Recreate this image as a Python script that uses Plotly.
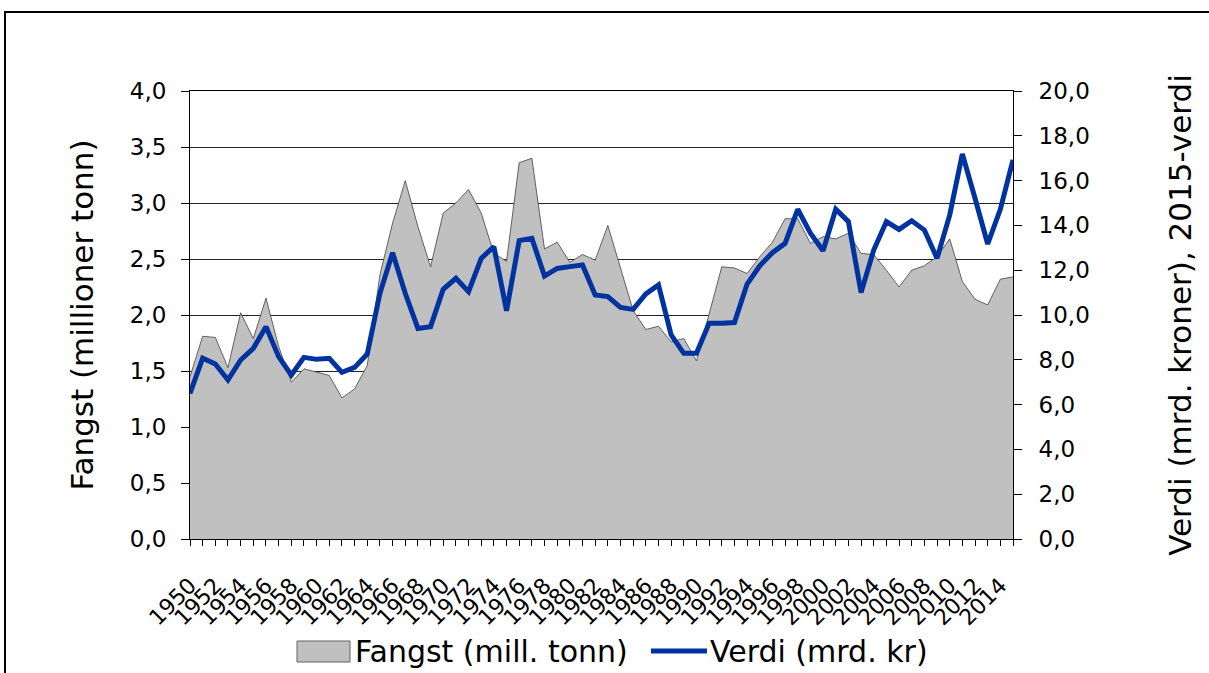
import plotly.graph_objects as go

years = list(range(1950, 2016))
fangst = [1.45, 1.81, 1.80, 1.53, 2.02, 1.79, 2.15, 1.72, 1.40, 1.52,
          1.49, 1.46, 1.26, 1.34, 1.55, 2.36, 2.82, 3.20, 2.79, 2.43,
          2.91, 3.00, 3.12, 2.91, 2.55, 2.48, 3.36, 3.40, 2.59, 2.65,
          2.47, 2.54, 2.49, 2.80, 2.42, 2.04, 1.87, 1.90, 1.76, 1.79,
          1.59, 2.00, 2.43, 2.42, 2.37, 2.52, 2.65, 2.86, 2.86, 2.64,
          2.70, 2.68, 2.73, 2.55, 2.54, 2.40, 2.25, 2.40, 2.44, 2.52,
          2.68, 2.30, 2.14, 2.09, 2.32, 2.34]
verdi = [6.50, 8.07, 7.81, 7.10, 7.99, 8.51, 9.48, 8.14, 7.32, 8.11,
         8.02, 8.07, 7.44, 7.66, 8.26, 10.97, 12.78, 10.97, 9.40, 9.48,
         11.15, 11.64, 11.04, 12.53, 13.05, 10.19, 13.32, 13.42, 11.74, 12.08,
         12.16, 12.23, 10.89, 10.82, 10.34, 10.25, 10.94, 11.34, 9.11, 8.29,
         8.29, 9.63, 9.63, 9.66, 11.38, 12.20, 12.78, 13.20, 14.72, 13.65,
         12.87, 14.72, 14.17, 11.00, 12.90, 14.17, 13.82, 14.21, 13.79, 12.53,
         14.46, 17.19, 15.21, 13.17, 14.72, 16.92]
label_years = years[::2]
left_title = "Fangst (millioner tonn)"
right_title = "Verdi (mrd. kroner), 2015-verdi"
name_fangst = "Fangst (mill. tonn)"
name_verdi = "Verdi (mrd. kr)"

FONT = "DejaVu Sans, Verdana, sans-serif"
GRAY = "#c0c0c0"
BLUE = "#0033a0"

# plot area in pixels: x 190..1013, y 91..539
def px(x):
    return (x - 190) / 823.0

def py(y):
    return (539 - y) / 448.0

fig = go.Figure()
fig.add_trace(go.Scatter(
    x=years, y=fangst, name=name_fangst, mode="lines",
    fill="tozeroy", fillcolor=GRAY,
    line=dict(color="#404040", width=0.8), yaxis="y", showlegend=False))
fig.add_trace(go.Scatter(
    x=years, y=verdi, name=name_verdi, mode="lines",
    line=dict(color=BLUE, width=5), yaxis="y2", showlegend=False))

fig.update_layout(
    width=1209, height=673,
    margin=dict(l=190, r=196, t=91, b=134, autoexpand=False),
    paper_bgcolor="white", plot_bgcolor="white",
    separators=", ",
    font=dict(family=FONT, color="black", size=22),
    showlegend=False,
    xaxis=dict(
        range=[1950, 2015], tickmode="array", tickvals=label_years,
        ticktext=[str(y) for y in label_years],
        tickangle=-45, ticks="outside", ticklen=6, tickcolor="black",
        minor=dict(dtick=1, tick0=1950, ticks="outside", ticklen=6, tickcolor="black", showgrid=False),
        showline=True, linecolor="black", linewidth=1, mirror=True,
        showgrid=False, zeroline=False, automargin=False,
        tickfont=dict(size=22, family=FONT), ticklabelstandoff=18),
    yaxis=dict(
        range=[0, 4], dtick=0.5, tickformat=".1f",
        ticks="outside", ticklen=8, tickcolor="black",
        showline=True, linecolor="black", linewidth=1,
        showgrid=True, gridcolor="#222222", gridwidth=1, zeroline=False,
        automargin=False,
        tickfont=dict(size=23, family=FONT), ticklabelstandoff=10,
        title=dict(text=left_title, font=dict(size=31, family=FONT), standoff=26)),
    yaxis2=dict(
        range=[0, 20], dtick=2, tickformat=".1f", overlaying="y", side="right",
        ticks="outside", ticklen=8, tickcolor="black",
        showline=True, linecolor="black", linewidth=1,
        showgrid=False, zeroline=False, automargin=False,
        tickfont=dict(size=23, family=FONT), ticklabelstandoff=12,
        title=dict(text=right_title, font=dict(size=31, family=FONT), standoff=80)),
    yaxis3=dict(
        range=[0, 20], dtick=2, overlaying="y", side="right",
        ticks="inside", ticklen=8, tickcolor="black", automargin=False,
        showticklabels=False, showline=False, showgrid=False, zeroline=False),
)

# outer chart frame
fig.add_shape(type="rect", xref="paper", yref="paper",
              x0=px(5), x1=px(1260), y0=py(720), y1=py(12),
              line=dict(color="black", width=2), fillcolor="rgba(0,0,0,0)", layer="below")

# legend (drawn as shapes + text)
leg_y = py(651)
fig.add_shape(type="rect", xref="paper", yref="paper",
              x0=px(297), x1=px(350), y0=py(662), y1=py(641),
              line=dict(color="#606060", width=1), fillcolor=GRAY)
fig.add_annotation(xref="paper", yref="paper", x=px(353), y=leg_y, xanchor="left", yanchor="middle",
                   text=name_fangst, showarrow=False, font=dict(size=30, family=FONT, color="black"))
fig.add_shape(type="line", xref="paper", yref="paper",
              x0=px(651), x1=px(707), y0=leg_y, y1=leg_y,
              line=dict(color=BLUE, width=5))
fig.add_annotation(xref="paper", yref="paper", x=px(708), y=leg_y, xanchor="left", yanchor="middle",
                   text=name_verdi, showarrow=False, font=dict(size=30, family=FONT, color="black"))

fig.write_html("out.html", config={"displayModeBar": False},
               post_script="document.body.style.margin='0';document.body.style.overflow='hidden';")
